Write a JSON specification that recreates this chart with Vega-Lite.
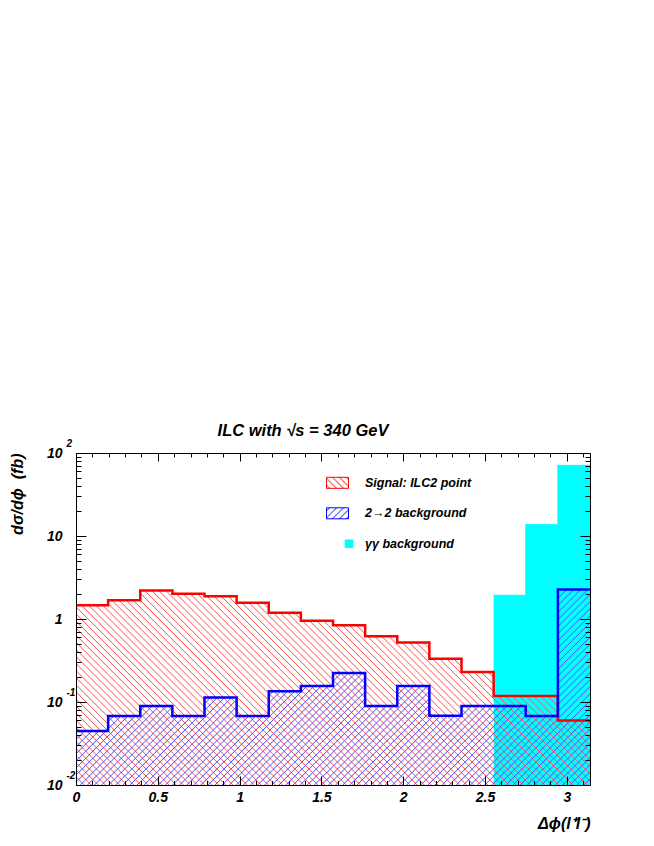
{
"$schema":"https://vega.github.io/schema/vega-lite/v6.json",
"width":514,"height":332,
"autosize":{"type":"none"},
"padding":{"left":76,"top":453,"right":64,"bottom":61},
"background":"white",
"title":{"text":"ILC with √s = 340 GeV","anchor":"middle","frame":"group","dx":-30,"offset":-14,"baseline":"alphabetic","font":"Liberation Sans","fontSize":16.5,"fontStyle":"italic","fontWeight":"bold","color":"black"},
"datasets":{"hist":[
{"series":"Signal: ILC2 point","phi":0,"dsdphi":1.46},
{"series":"Signal: ILC2 point","phi":0.19635,"dsdphi":1.68},
{"series":"Signal: ILC2 point","phi":0.3927,"dsdphi":2.2},
{"series":"Signal: ILC2 point","phi":0.58905,"dsdphi":2.02},
{"series":"Signal: ILC2 point","phi":0.7854,"dsdphi":1.88},
{"series":"Signal: ILC2 point","phi":0.98175,"dsdphi":1.57},
{"series":"Signal: ILC2 point","phi":1.1781,"dsdphi":1.19},
{"series":"Signal: ILC2 point","phi":1.37445,"dsdphi":0.95},
{"series":"Signal: ILC2 point","phi":1.5708,"dsdphi":0.84},
{"series":"Signal: ILC2 point","phi":1.76715,"dsdphi":0.62},
{"series":"Signal: ILC2 point","phi":1.9635,"dsdphi":0.52},
{"series":"Signal: ILC2 point","phi":2.15984,"dsdphi":0.333},
{"series":"Signal: ILC2 point","phi":2.35619,"dsdphi":0.23},
{"series":"Signal: ILC2 point","phi":2.55254,"dsdphi":0.118},
{"series":"Signal: ILC2 point","phi":2.74889,"dsdphi":0.118},
{"series":"Signal: ILC2 point","phi":2.94524,"dsdphi":0.06},
{"series":"Signal: ILC2 point","phi":3.14159,"dsdphi":0.06},
{"series":"2→2 background","phi":0,"dsdphi":0.0447},
{"series":"2→2 background","phi":0.19635,"dsdphi":0.0678},
{"series":"2→2 background","phi":0.3927,"dsdphi":0.0895},
{"series":"2→2 background","phi":0.58905,"dsdphi":0.0678},
{"series":"2→2 background","phi":0.7854,"dsdphi":0.113},
{"series":"2→2 background","phi":0.98175,"dsdphi":0.0678},
{"series":"2→2 background","phi":1.1781,"dsdphi":0.135},
{"series":"2→2 background","phi":1.37445,"dsdphi":0.156},
{"series":"2→2 background","phi":1.5708,"dsdphi":0.223},
{"series":"2→2 background","phi":1.76715,"dsdphi":0.0895},
{"series":"2→2 background","phi":1.9635,"dsdphi":0.156},
{"series":"2→2 background","phi":2.15984,"dsdphi":0.0685},
{"series":"2→2 background","phi":2.35619,"dsdphi":0.0895},
{"series":"2→2 background","phi":2.55254,"dsdphi":0.0895},
{"series":"2→2 background","phi":2.74889,"dsdphi":0.0678},
{"series":"2→2 background","phi":2.94524,"dsdphi":2.26},
{"series":"2→2 background","phi":3.14159,"dsdphi":2.26},
{"series":"γγ background","phi":0,"dsdphi":0},
{"series":"γγ background","phi":0.19635,"dsdphi":0},
{"series":"γγ background","phi":0.3927,"dsdphi":0},
{"series":"γγ background","phi":0.58905,"dsdphi":0},
{"series":"γγ background","phi":0.7854,"dsdphi":0},
{"series":"γγ background","phi":0.98175,"dsdphi":0},
{"series":"γγ background","phi":1.1781,"dsdphi":0},
{"series":"γγ background","phi":1.37445,"dsdphi":0},
{"series":"γγ background","phi":1.5708,"dsdphi":0},
{"series":"γγ background","phi":1.76715,"dsdphi":0},
{"series":"γγ background","phi":1.9635,"dsdphi":0},
{"series":"γγ background","phi":2.15984,"dsdphi":0},
{"series":"γγ background","phi":2.35619,"dsdphi":0},
{"series":"γγ background","phi":2.55254,"dsdphi":1.93},
{"series":"γγ background","phi":2.74889,"dsdphi":13.7},
{"series":"γγ background","phi":2.94524,"dsdphi":71},
{"series":"γγ background","phi":3.14159,"dsdphi":71}
]},
"data":{"name":"hist"},
"resolve":{"axis":{"x":"independent","y":"independent"}},
"layer":[
{"transform":[{"filter":"datum.series === 'γγ background' && datum.dsdphi > 0"}],
 "mark":{"type":"area","interpolate":"step-after","fill":"#00ffff"},
 "encoding":{
  "x":{"field":"phi","type":"quantitative","scale":{"domain":[0,3.14159],"nice":false,"zero":false},
   "axis":{"orient":"bottom","values":[0,0.5,1,1.5,2,2.5,3],"format":"~g","ticks":false,"domain":false,"labelPadding":12,"labelBaseline":"middle","zindex":1,
    "title":"Δϕ(l⁺l⁻)","titleX":514,"titleY":38,"titleAlign":"right","titleBaseline":"middle","titleAngle":0}},
  "y":{"field":"dsdphi","type":"quantitative","scale":{"type":"log","domain":[0.01,100],"nice":false},
   "axis":{"orient":"left","values":[0.01,0.1,1,10,100],"ticks":false,"domain":false,"labelExpr":"datum.value == 1 ? '1' : '10'","labelPadding":14,"labelAlign":"right","labelBaseline":"middle","zindex":1,
    "title":"dσ/dϕ\u00a0\u00a0(fb)","titleX":-59,"titleY":0,"titleAngle":-90,"titleAlign":"right","titleBaseline":"middle"}},
  "y2":{"datum":0.01}}},
{"transform":[{"filter":"datum.series === 'Signal: ILC2 point'"}],
 "mark":{"type":"area","interpolate":"step-after","fill":{"gradient":"linear","x1":0,"y1":1,"x2":1.2057,"y2":0.5439,"stops":[
{"offset":0,"color":"#f550"},{"offset":0.0015,"color":"#f55"},{"offset":0.003,"color":"#f550"},
{"offset":0.01,"color":"#f550"},{"offset":0.0115,"color":"#f55"},{"offset":0.013,"color":"#f550"},
{"offset":0.02,"color":"#f550"},{"offset":0.0215,"color":"#f55"},{"offset":0.023,"color":"#f550"},
{"offset":0.03,"color":"#f550"},{"offset":0.0315,"color":"#f55"},{"offset":0.033,"color":"#f550"},
{"offset":0.04,"color":"#f550"},{"offset":0.0415,"color":"#f55"},{"offset":0.043,"color":"#f550"},
{"offset":0.05,"color":"#f550"},{"offset":0.0515,"color":"#f55"},{"offset":0.053,"color":"#f550"},
{"offset":0.06,"color":"#f550"},{"offset":0.0615,"color":"#f55"},{"offset":0.063,"color":"#f550"},
{"offset":0.07,"color":"#f550"},{"offset":0.0715,"color":"#f55"},{"offset":0.073,"color":"#f550"},
{"offset":0.08,"color":"#f550"},{"offset":0.0815,"color":"#f55"},{"offset":0.083,"color":"#f550"},
{"offset":0.09,"color":"#f550"},{"offset":0.0915,"color":"#f55"},{"offset":0.093,"color":"#f550"},
{"offset":0.1,"color":"#f550"},{"offset":0.1015,"color":"#f55"},{"offset":0.103,"color":"#f550"},
{"offset":0.11,"color":"#f550"},{"offset":0.1115,"color":"#f55"},{"offset":0.113,"color":"#f550"},
{"offset":0.12,"color":"#f550"},{"offset":0.1215,"color":"#f55"},{"offset":0.123,"color":"#f550"},
{"offset":0.13,"color":"#f550"},{"offset":0.1315,"color":"#f55"},{"offset":0.133,"color":"#f550"},
{"offset":0.14,"color":"#f550"},{"offset":0.1415,"color":"#f55"},{"offset":0.143,"color":"#f550"},
{"offset":0.15,"color":"#f550"},{"offset":0.1515,"color":"#f55"},{"offset":0.153,"color":"#f550"},
{"offset":0.16,"color":"#f550"},{"offset":0.1615,"color":"#f55"},{"offset":0.163,"color":"#f550"},
{"offset":0.17,"color":"#f550"},{"offset":0.1715,"color":"#f55"},{"offset":0.173,"color":"#f550"},
{"offset":0.18,"color":"#f550"},{"offset":0.1815,"color":"#f55"},{"offset":0.183,"color":"#f550"},
{"offset":0.19,"color":"#f550"},{"offset":0.1915,"color":"#f55"},{"offset":0.193,"color":"#f550"},
{"offset":0.2,"color":"#f550"},{"offset":0.2015,"color":"#f55"},{"offset":0.203,"color":"#f550"},
{"offset":0.21,"color":"#f550"},{"offset":0.2115,"color":"#f55"},{"offset":0.213,"color":"#f550"},
{"offset":0.22,"color":"#f550"},{"offset":0.2215,"color":"#f55"},{"offset":0.223,"color":"#f550"},
{"offset":0.23,"color":"#f550"},{"offset":0.2315,"color":"#f55"},{"offset":0.233,"color":"#f550"},
{"offset":0.24,"color":"#f550"},{"offset":0.2415,"color":"#f55"},{"offset":0.243,"color":"#f550"},
{"offset":0.25,"color":"#f550"},{"offset":0.2515,"color":"#f55"},{"offset":0.253,"color":"#f550"},
{"offset":0.26,"color":"#f550"},{"offset":0.2615,"color":"#f55"},{"offset":0.263,"color":"#f550"},
{"offset":0.27,"color":"#f550"},{"offset":0.2715,"color":"#f55"},{"offset":0.273,"color":"#f550"},
{"offset":0.28,"color":"#f550"},{"offset":0.2815,"color":"#f55"},{"offset":0.283,"color":"#f550"},
{"offset":0.29,"color":"#f550"},{"offset":0.2915,"color":"#f55"},{"offset":0.293,"color":"#f550"},
{"offset":0.3,"color":"#f550"},{"offset":0.3015,"color":"#f55"},{"offset":0.303,"color":"#f550"},
{"offset":0.31,"color":"#f550"},{"offset":0.3115,"color":"#f55"},{"offset":0.313,"color":"#f550"},
{"offset":0.32,"color":"#f550"},{"offset":0.3215,"color":"#f55"},{"offset":0.323,"color":"#f550"},
{"offset":0.33,"color":"#f550"},{"offset":0.3315,"color":"#f55"},{"offset":0.333,"color":"#f550"},
{"offset":0.34,"color":"#f550"},{"offset":0.3415,"color":"#f55"},{"offset":0.343,"color":"#f550"},
{"offset":0.35,"color":"#f550"},{"offset":0.3515,"color":"#f55"},{"offset":0.353,"color":"#f550"},
{"offset":0.36,"color":"#f550"},{"offset":0.3615,"color":"#f55"},{"offset":0.363,"color":"#f550"},
{"offset":0.37,"color":"#f550"},{"offset":0.3715,"color":"#f55"},{"offset":0.373,"color":"#f550"},
{"offset":0.38,"color":"#f550"},{"offset":0.3815,"color":"#f55"},{"offset":0.383,"color":"#f550"},
{"offset":0.39,"color":"#f550"},{"offset":0.3915,"color":"#f55"},{"offset":0.393,"color":"#f550"},
{"offset":0.4,"color":"#f550"},{"offset":0.4015,"color":"#f55"},{"offset":0.403,"color":"#f550"},
{"offset":0.41,"color":"#f550"},{"offset":0.4115,"color":"#f55"},{"offset":0.413,"color":"#f550"},
{"offset":0.42,"color":"#f550"},{"offset":0.4215,"color":"#f55"},{"offset":0.423,"color":"#f550"},
{"offset":0.43,"color":"#f550"},{"offset":0.4315,"color":"#f55"},{"offset":0.433,"color":"#f550"},
{"offset":0.44,"color":"#f550"},{"offset":0.4415,"color":"#f55"},{"offset":0.443,"color":"#f550"},
{"offset":0.45,"color":"#f550"},{"offset":0.4515,"color":"#f55"},{"offset":0.453,"color":"#f550"},
{"offset":0.46,"color":"#f550"},{"offset":0.4615,"color":"#f55"},{"offset":0.463,"color":"#f550"},
{"offset":0.47,"color":"#f550"},{"offset":0.4715,"color":"#f55"},{"offset":0.473,"color":"#f550"},
{"offset":0.48,"color":"#f550"},{"offset":0.4815,"color":"#f55"},{"offset":0.483,"color":"#f550"},
{"offset":0.49,"color":"#f550"},{"offset":0.4915,"color":"#f55"},{"offset":0.493,"color":"#f550"},
{"offset":0.5,"color":"#f550"},{"offset":0.5015,"color":"#f55"},{"offset":0.503,"color":"#f550"},
{"offset":0.51,"color":"#f550"},{"offset":0.5115,"color":"#f55"},{"offset":0.513,"color":"#f550"},
{"offset":0.52,"color":"#f550"},{"offset":0.5215,"color":"#f55"},{"offset":0.523,"color":"#f550"},
{"offset":0.53,"color":"#f550"},{"offset":0.5315,"color":"#f55"},{"offset":0.533,"color":"#f550"},
{"offset":0.54,"color":"#f550"},{"offset":0.5415,"color":"#f55"},{"offset":0.543,"color":"#f550"},
{"offset":0.55,"color":"#f550"},{"offset":0.5515,"color":"#f55"},{"offset":0.553,"color":"#f550"},
{"offset":0.56,"color":"#f550"},{"offset":0.5615,"color":"#f55"},{"offset":0.563,"color":"#f550"},
{"offset":0.57,"color":"#f550"},{"offset":0.5715,"color":"#f55"},{"offset":0.573,"color":"#f550"},
{"offset":0.58,"color":"#f550"},{"offset":0.5815,"color":"#f55"},{"offset":0.583,"color":"#f550"},
{"offset":0.59,"color":"#f550"},{"offset":0.5915,"color":"#f55"},{"offset":0.593,"color":"#f550"},
{"offset":0.6,"color":"#f550"},{"offset":0.6015,"color":"#f55"},{"offset":0.603,"color":"#f550"},
{"offset":0.61,"color":"#f550"},{"offset":0.6115,"color":"#f55"},{"offset":0.613,"color":"#f550"},
{"offset":0.62,"color":"#f550"},{"offset":0.6215,"color":"#f55"},{"offset":0.623,"color":"#f550"},
{"offset":0.63,"color":"#f550"},{"offset":0.6315,"color":"#f55"},{"offset":0.633,"color":"#f550"},
{"offset":0.64,"color":"#f550"},{"offset":0.6415,"color":"#f55"},{"offset":0.643,"color":"#f550"},
{"offset":0.65,"color":"#f550"},{"offset":0.6515,"color":"#f55"},{"offset":0.653,"color":"#f550"},
{"offset":0.66,"color":"#f550"},{"offset":0.6615,"color":"#f55"},{"offset":0.663,"color":"#f550"},
{"offset":0.67,"color":"#f550"},{"offset":0.6715,"color":"#f55"},{"offset":0.673,"color":"#f550"},
{"offset":0.68,"color":"#f550"},{"offset":0.6815,"color":"#f55"},{"offset":0.683,"color":"#f550"},
{"offset":0.69,"color":"#f550"},{"offset":0.6915,"color":"#f55"},{"offset":0.693,"color":"#f550"},
{"offset":0.7,"color":"#f550"},{"offset":0.7015,"color":"#f55"},{"offset":0.703,"color":"#f550"},
{"offset":0.71,"color":"#f550"},{"offset":0.7115,"color":"#f55"},{"offset":0.713,"color":"#f550"},
{"offset":0.72,"color":"#f550"},{"offset":0.7215,"color":"#f55"},{"offset":0.723,"color":"#f550"},
{"offset":0.73,"color":"#f550"},{"offset":0.7315,"color":"#f55"},{"offset":0.733,"color":"#f550"},
{"offset":0.74,"color":"#f550"},{"offset":0.7415,"color":"#f55"},{"offset":0.743,"color":"#f550"},
{"offset":0.75,"color":"#f550"},{"offset":0.7515,"color":"#f55"},{"offset":0.753,"color":"#f550"},
{"offset":0.76,"color":"#f550"},{"offset":0.7615,"color":"#f55"},{"offset":0.763,"color":"#f550"},
{"offset":0.77,"color":"#f550"},{"offset":0.7715,"color":"#f55"},{"offset":0.773,"color":"#f550"},
{"offset":0.78,"color":"#f550"},{"offset":0.7815,"color":"#f55"},{"offset":0.783,"color":"#f550"},
{"offset":0.79,"color":"#f550"},{"offset":0.7915,"color":"#f55"},{"offset":0.793,"color":"#f550"},
{"offset":0.8,"color":"#f550"},{"offset":0.8015,"color":"#f55"},{"offset":0.803,"color":"#f550"},
{"offset":0.81,"color":"#f550"},{"offset":0.8115,"color":"#f55"},{"offset":0.813,"color":"#f550"},
{"offset":0.82,"color":"#f550"},{"offset":0.8215,"color":"#f55"},{"offset":0.823,"color":"#f550"},
{"offset":0.83,"color":"#f550"},{"offset":0.8315,"color":"#f55"},{"offset":0.833,"color":"#f550"},
{"offset":0.84,"color":"#f550"},{"offset":0.8415,"color":"#f55"},{"offset":0.843,"color":"#f550"},
{"offset":0.85,"color":"#f550"},{"offset":0.8515,"color":"#f55"},{"offset":0.853,"color":"#f550"},
{"offset":0.86,"color":"#f550"},{"offset":0.8615,"color":"#f55"},{"offset":0.863,"color":"#f550"},
{"offset":0.87,"color":"#f550"},{"offset":0.8715,"color":"#f55"},{"offset":0.873,"color":"#f550"},
{"offset":0.88,"color":"#f550"},{"offset":0.8815,"color":"#f55"},{"offset":0.883,"color":"#f550"},
{"offset":0.89,"color":"#f550"},{"offset":0.8915,"color":"#f55"},{"offset":0.893,"color":"#f550"},
{"offset":0.9,"color":"#f550"},{"offset":0.9015,"color":"#f55"},{"offset":0.903,"color":"#f550"},
{"offset":0.91,"color":"#f550"},{"offset":0.9115,"color":"#f55"},{"offset":0.913,"color":"#f550"},
{"offset":0.92,"color":"#f550"},{"offset":0.9215,"color":"#f55"},{"offset":0.923,"color":"#f550"},
{"offset":0.93,"color":"#f550"},{"offset":0.9315,"color":"#f55"},{"offset":0.933,"color":"#f550"},
{"offset":0.94,"color":"#f550"},{"offset":0.9415,"color":"#f55"},{"offset":0.943,"color":"#f550"},
{"offset":0.95,"color":"#f550"},{"offset":0.9515,"color":"#f55"},{"offset":0.953,"color":"#f550"},
{"offset":0.96,"color":"#f550"},{"offset":0.9615,"color":"#f55"},{"offset":0.963,"color":"#f550"},
{"offset":0.97,"color":"#f550"},{"offset":0.9715,"color":"#f55"},{"offset":0.973,"color":"#f550"},
{"offset":0.98,"color":"#f550"},{"offset":0.9815,"color":"#f55"},{"offset":0.983,"color":"#f550"},
{"offset":0.99,"color":"#f550"},{"offset":0.9915,"color":"#f55"},{"offset":0.993,"color":"#f550"}
]}},
 "encoding":{
  "x":{"field":"phi","type":"quantitative","scale":{"domain":[0,3.14159],"nice":false,"zero":false},
   "axis":{"orient":"bottom","values":[0,0.5,1,1.5,2,2.5,3],"labels":false,"domain":true,"tickSize":-9,"title":null,"zindex":1}},
  "y":{"field":"dsdphi","type":"quantitative","scale":{"type":"log","domain":[0.01,100],"nice":false},
   "axis":{"orient":"left","values":[0.01,0.1,100],"ticks":false,"domain":false,"labelExpr":"datum.value < 0.05 ? '-2' : datum.value < 0.5 ? '-1' : '2'","labelAlign":"left","labelPadding":10,"labelOffset":-10,"labelBaseline":"middle","labelFontSize":10,"title":null,"zindex":1}},
  "y2":{"datum":0.01}}},
{"transform":[{"filter":"datum.series === '2→2 background'"}],
 "mark":{"type":"area","interpolate":"step-after","fill":{"gradient":"linear","x1":0,"y1":0,"x2":1.2059,"y2":0.4584,"stops":[
{"offset":0,"color":"#55f0"},{"offset":0.0015,"color":"#55f"},{"offset":0.003,"color":"#55f0"},
{"offset":0.01,"color":"#55f0"},{"offset":0.0115,"color":"#55f"},{"offset":0.013,"color":"#55f0"},
{"offset":0.02,"color":"#55f0"},{"offset":0.0215,"color":"#55f"},{"offset":0.023,"color":"#55f0"},
{"offset":0.03,"color":"#55f0"},{"offset":0.0315,"color":"#55f"},{"offset":0.033,"color":"#55f0"},
{"offset":0.04,"color":"#55f0"},{"offset":0.0415,"color":"#55f"},{"offset":0.043,"color":"#55f0"},
{"offset":0.05,"color":"#55f0"},{"offset":0.0515,"color":"#55f"},{"offset":0.053,"color":"#55f0"},
{"offset":0.06,"color":"#55f0"},{"offset":0.0615,"color":"#55f"},{"offset":0.063,"color":"#55f0"},
{"offset":0.07,"color":"#55f0"},{"offset":0.0715,"color":"#55f"},{"offset":0.073,"color":"#55f0"},
{"offset":0.08,"color":"#55f0"},{"offset":0.0815,"color":"#55f"},{"offset":0.083,"color":"#55f0"},
{"offset":0.09,"color":"#55f0"},{"offset":0.0915,"color":"#55f"},{"offset":0.093,"color":"#55f0"},
{"offset":0.1,"color":"#55f0"},{"offset":0.1015,"color":"#55f"},{"offset":0.103,"color":"#55f0"},
{"offset":0.11,"color":"#55f0"},{"offset":0.1115,"color":"#55f"},{"offset":0.113,"color":"#55f0"},
{"offset":0.12,"color":"#55f0"},{"offset":0.1215,"color":"#55f"},{"offset":0.123,"color":"#55f0"},
{"offset":0.13,"color":"#55f0"},{"offset":0.1315,"color":"#55f"},{"offset":0.133,"color":"#55f0"},
{"offset":0.14,"color":"#55f0"},{"offset":0.1415,"color":"#55f"},{"offset":0.143,"color":"#55f0"},
{"offset":0.15,"color":"#55f0"},{"offset":0.1515,"color":"#55f"},{"offset":0.153,"color":"#55f0"},
{"offset":0.16,"color":"#55f0"},{"offset":0.1615,"color":"#55f"},{"offset":0.163,"color":"#55f0"},
{"offset":0.17,"color":"#55f0"},{"offset":0.1715,"color":"#55f"},{"offset":0.173,"color":"#55f0"},
{"offset":0.18,"color":"#55f0"},{"offset":0.1815,"color":"#55f"},{"offset":0.183,"color":"#55f0"},
{"offset":0.19,"color":"#55f0"},{"offset":0.1915,"color":"#55f"},{"offset":0.193,"color":"#55f0"},
{"offset":0.2,"color":"#55f0"},{"offset":0.2015,"color":"#55f"},{"offset":0.203,"color":"#55f0"},
{"offset":0.21,"color":"#55f0"},{"offset":0.2115,"color":"#55f"},{"offset":0.213,"color":"#55f0"},
{"offset":0.22,"color":"#55f0"},{"offset":0.2215,"color":"#55f"},{"offset":0.223,"color":"#55f0"},
{"offset":0.23,"color":"#55f0"},{"offset":0.2315,"color":"#55f"},{"offset":0.233,"color":"#55f0"},
{"offset":0.24,"color":"#55f0"},{"offset":0.2415,"color":"#55f"},{"offset":0.243,"color":"#55f0"},
{"offset":0.25,"color":"#55f0"},{"offset":0.2515,"color":"#55f"},{"offset":0.253,"color":"#55f0"},
{"offset":0.26,"color":"#55f0"},{"offset":0.2615,"color":"#55f"},{"offset":0.263,"color":"#55f0"},
{"offset":0.27,"color":"#55f0"},{"offset":0.2715,"color":"#55f"},{"offset":0.273,"color":"#55f0"},
{"offset":0.28,"color":"#55f0"},{"offset":0.2815,"color":"#55f"},{"offset":0.283,"color":"#55f0"},
{"offset":0.29,"color":"#55f0"},{"offset":0.2915,"color":"#55f"},{"offset":0.293,"color":"#55f0"},
{"offset":0.3,"color":"#55f0"},{"offset":0.3015,"color":"#55f"},{"offset":0.303,"color":"#55f0"},
{"offset":0.31,"color":"#55f0"},{"offset":0.3115,"color":"#55f"},{"offset":0.313,"color":"#55f0"},
{"offset":0.32,"color":"#55f0"},{"offset":0.3215,"color":"#55f"},{"offset":0.323,"color":"#55f0"},
{"offset":0.33,"color":"#55f0"},{"offset":0.3315,"color":"#55f"},{"offset":0.333,"color":"#55f0"},
{"offset":0.34,"color":"#55f0"},{"offset":0.3415,"color":"#55f"},{"offset":0.343,"color":"#55f0"},
{"offset":0.35,"color":"#55f0"},{"offset":0.3515,"color":"#55f"},{"offset":0.353,"color":"#55f0"},
{"offset":0.36,"color":"#55f0"},{"offset":0.3615,"color":"#55f"},{"offset":0.363,"color":"#55f0"},
{"offset":0.37,"color":"#55f0"},{"offset":0.3715,"color":"#55f"},{"offset":0.373,"color":"#55f0"},
{"offset":0.38,"color":"#55f0"},{"offset":0.3815,"color":"#55f"},{"offset":0.383,"color":"#55f0"},
{"offset":0.39,"color":"#55f0"},{"offset":0.3915,"color":"#55f"},{"offset":0.393,"color":"#55f0"},
{"offset":0.4,"color":"#55f0"},{"offset":0.4015,"color":"#55f"},{"offset":0.403,"color":"#55f0"},
{"offset":0.41,"color":"#55f0"},{"offset":0.4115,"color":"#55f"},{"offset":0.413,"color":"#55f0"},
{"offset":0.42,"color":"#55f0"},{"offset":0.4215,"color":"#55f"},{"offset":0.423,"color":"#55f0"},
{"offset":0.43,"color":"#55f0"},{"offset":0.4315,"color":"#55f"},{"offset":0.433,"color":"#55f0"},
{"offset":0.44,"color":"#55f0"},{"offset":0.4415,"color":"#55f"},{"offset":0.443,"color":"#55f0"},
{"offset":0.45,"color":"#55f0"},{"offset":0.4515,"color":"#55f"},{"offset":0.453,"color":"#55f0"},
{"offset":0.46,"color":"#55f0"},{"offset":0.4615,"color":"#55f"},{"offset":0.463,"color":"#55f0"},
{"offset":0.47,"color":"#55f0"},{"offset":0.4715,"color":"#55f"},{"offset":0.473,"color":"#55f0"},
{"offset":0.48,"color":"#55f0"},{"offset":0.4815,"color":"#55f"},{"offset":0.483,"color":"#55f0"},
{"offset":0.49,"color":"#55f0"},{"offset":0.4915,"color":"#55f"},{"offset":0.493,"color":"#55f0"},
{"offset":0.5,"color":"#55f0"},{"offset":0.5015,"color":"#55f"},{"offset":0.503,"color":"#55f0"},
{"offset":0.51,"color":"#55f0"},{"offset":0.5115,"color":"#55f"},{"offset":0.513,"color":"#55f0"},
{"offset":0.52,"color":"#55f0"},{"offset":0.5215,"color":"#55f"},{"offset":0.523,"color":"#55f0"},
{"offset":0.53,"color":"#55f0"},{"offset":0.5315,"color":"#55f"},{"offset":0.533,"color":"#55f0"},
{"offset":0.54,"color":"#55f0"},{"offset":0.5415,"color":"#55f"},{"offset":0.543,"color":"#55f0"},
{"offset":0.55,"color":"#55f0"},{"offset":0.5515,"color":"#55f"},{"offset":0.553,"color":"#55f0"},
{"offset":0.56,"color":"#55f0"},{"offset":0.5615,"color":"#55f"},{"offset":0.563,"color":"#55f0"},
{"offset":0.57,"color":"#55f0"},{"offset":0.5715,"color":"#55f"},{"offset":0.573,"color":"#55f0"},
{"offset":0.58,"color":"#55f0"},{"offset":0.5815,"color":"#55f"},{"offset":0.583,"color":"#55f0"},
{"offset":0.59,"color":"#55f0"},{"offset":0.5915,"color":"#55f"},{"offset":0.593,"color":"#55f0"},
{"offset":0.6,"color":"#55f0"},{"offset":0.6015,"color":"#55f"},{"offset":0.603,"color":"#55f0"},
{"offset":0.61,"color":"#55f0"},{"offset":0.6115,"color":"#55f"},{"offset":0.613,"color":"#55f0"},
{"offset":0.62,"color":"#55f0"},{"offset":0.6215,"color":"#55f"},{"offset":0.623,"color":"#55f0"},
{"offset":0.63,"color":"#55f0"},{"offset":0.6315,"color":"#55f"},{"offset":0.633,"color":"#55f0"},
{"offset":0.64,"color":"#55f0"},{"offset":0.6415,"color":"#55f"},{"offset":0.643,"color":"#55f0"},
{"offset":0.65,"color":"#55f0"},{"offset":0.6515,"color":"#55f"},{"offset":0.653,"color":"#55f0"},
{"offset":0.66,"color":"#55f0"},{"offset":0.6615,"color":"#55f"},{"offset":0.663,"color":"#55f0"},
{"offset":0.67,"color":"#55f0"},{"offset":0.6715,"color":"#55f"},{"offset":0.673,"color":"#55f0"},
{"offset":0.68,"color":"#55f0"},{"offset":0.6815,"color":"#55f"},{"offset":0.683,"color":"#55f0"},
{"offset":0.69,"color":"#55f0"},{"offset":0.6915,"color":"#55f"},{"offset":0.693,"color":"#55f0"},
{"offset":0.7,"color":"#55f0"},{"offset":0.7015,"color":"#55f"},{"offset":0.703,"color":"#55f0"},
{"offset":0.71,"color":"#55f0"},{"offset":0.7115,"color":"#55f"},{"offset":0.713,"color":"#55f0"},
{"offset":0.72,"color":"#55f0"},{"offset":0.7215,"color":"#55f"},{"offset":0.723,"color":"#55f0"},
{"offset":0.73,"color":"#55f0"},{"offset":0.7315,"color":"#55f"},{"offset":0.733,"color":"#55f0"},
{"offset":0.74,"color":"#55f0"},{"offset":0.7415,"color":"#55f"},{"offset":0.743,"color":"#55f0"},
{"offset":0.75,"color":"#55f0"},{"offset":0.7515,"color":"#55f"},{"offset":0.753,"color":"#55f0"},
{"offset":0.76,"color":"#55f0"},{"offset":0.7615,"color":"#55f"},{"offset":0.763,"color":"#55f0"},
{"offset":0.77,"color":"#55f0"},{"offset":0.7715,"color":"#55f"},{"offset":0.773,"color":"#55f0"},
{"offset":0.78,"color":"#55f0"},{"offset":0.7815,"color":"#55f"},{"offset":0.783,"color":"#55f0"},
{"offset":0.79,"color":"#55f0"},{"offset":0.7915,"color":"#55f"},{"offset":0.793,"color":"#55f0"},
{"offset":0.8,"color":"#55f0"},{"offset":0.8015,"color":"#55f"},{"offset":0.803,"color":"#55f0"},
{"offset":0.81,"color":"#55f0"},{"offset":0.8115,"color":"#55f"},{"offset":0.813,"color":"#55f0"},
{"offset":0.82,"color":"#55f0"},{"offset":0.8215,"color":"#55f"},{"offset":0.823,"color":"#55f0"},
{"offset":0.83,"color":"#55f0"},{"offset":0.8315,"color":"#55f"},{"offset":0.833,"color":"#55f0"},
{"offset":0.84,"color":"#55f0"},{"offset":0.8415,"color":"#55f"},{"offset":0.843,"color":"#55f0"},
{"offset":0.85,"color":"#55f0"},{"offset":0.8515,"color":"#55f"},{"offset":0.853,"color":"#55f0"},
{"offset":0.86,"color":"#55f0"},{"offset":0.8615,"color":"#55f"},{"offset":0.863,"color":"#55f0"},
{"offset":0.87,"color":"#55f0"},{"offset":0.8715,"color":"#55f"},{"offset":0.873,"color":"#55f0"},
{"offset":0.88,"color":"#55f0"},{"offset":0.8815,"color":"#55f"},{"offset":0.883,"color":"#55f0"},
{"offset":0.89,"color":"#55f0"},{"offset":0.8915,"color":"#55f"},{"offset":0.893,"color":"#55f0"},
{"offset":0.9,"color":"#55f0"},{"offset":0.9015,"color":"#55f"},{"offset":0.903,"color":"#55f0"},
{"offset":0.91,"color":"#55f0"},{"offset":0.9115,"color":"#55f"},{"offset":0.913,"color":"#55f0"},
{"offset":0.92,"color":"#55f0"},{"offset":0.9215,"color":"#55f"},{"offset":0.923,"color":"#55f0"},
{"offset":0.93,"color":"#55f0"},{"offset":0.9315,"color":"#55f"},{"offset":0.933,"color":"#55f0"},
{"offset":0.94,"color":"#55f0"},{"offset":0.9415,"color":"#55f"},{"offset":0.943,"color":"#55f0"},
{"offset":0.95,"color":"#55f0"},{"offset":0.9515,"color":"#55f"},{"offset":0.953,"color":"#55f0"},
{"offset":0.96,"color":"#55f0"},{"offset":0.9615,"color":"#55f"},{"offset":0.963,"color":"#55f0"},
{"offset":0.97,"color":"#55f0"},{"offset":0.9715,"color":"#55f"},{"offset":0.973,"color":"#55f0"},
{"offset":0.98,"color":"#55f0"},{"offset":0.9815,"color":"#55f"},{"offset":0.983,"color":"#55f0"},
{"offset":0.99,"color":"#55f0"},{"offset":0.9915,"color":"#55f"},{"offset":0.993,"color":"#55f0"}
]}},
 "encoding":{
  "x":{"field":"phi","type":"quantitative","scale":{"domain":[0,3.14159],"nice":false,"zero":false},
   "axis":{"orient":"bottom","values":[0.1,0.2,0.3,0.4,0.6,0.7,0.8,0.9,1.1,1.2,1.3,1.4,1.6,1.7,1.8,1.9,2.1,2.2,2.3,2.4,2.6,2.7,2.8,2.9,3.1],"labels":false,"domain":false,"tickSize":-4.5,"title":null,"zindex":1}},
  "y":{"field":"dsdphi","type":"quantitative","scale":{"type":"log","domain":[0.01,100],"nice":false},
   "axis":{"orient":"left","values":[0.01,0.1,1,10,100],"labels":false,"domain":true,"tickSize":-10,"title":null,"zindex":1}},
  "y2":{"datum":0.01}}},
{"transform":[{"filter":"datum.series === 'γγ background' && datum.dsdphi > 0"}],
 "mark":{"type":"line","interpolate":"step-after","strokeWidth":1,"strokeJoin":"miter"},
 "encoding":{
  "x":{"field":"phi","type":"quantitative","scale":{"domain":[0,3.14159],"nice":false,"zero":false},
   "axis":{"orient":"top","values":[0,0.5,1,1.5,2,2.5,3],"labels":false,"domain":true,"tickSize":-8,"title":null,"zindex":1}},
  "y":{"field":"dsdphi","type":"quantitative","scale":{"type":"log","domain":[0.01,100],"nice":false},
   "axis":{"orient":"left","values":[0.02,0.03,0.04,0.05,0.06,0.07,0.08,0.09,0.2,0.3,0.4,0.5,0.6,0.7,0.8,0.9,2,3,4,5,6,7,8,9,20,30,40,50,60,70,80,90],"labels":false,"domain":false,"tickSize":-5,"title":null,"zindex":1}},
  "color":{"field":"series","type":"nominal",
   "scale":{"domain":["Signal: ILC2 point","2→2 background","γγ background"],"range":["#ff0000","#0000ff","#00ffff"]},
   "legend":{"orient":"none","legendX":250,"legendY":18.3,"title":null,"padding":0,"symbolOffset":0,"labelOffset":16,"rowPadding":11.5,
    "labelFont":"Liberation Sans","labelFontSize":12.5,"labelFontStyle":"italic","labelFontWeight":"bold","labelColor":"black","labelLimit":0,
    "symbolSize":484,"symbolStrokeWidth":1,
    "encode":{"symbols":{"update":{
     "shape":[{"test":"datum.value === 'γγ background'","value":"M0.7,-0.35H1.4V0.35H0.7Z"},{"value":"M-1,-0.5H1V0.5H-1Z"}],
     "fill":[{"test":"datum.value === 'Signal: ILC2 point'","value":{"gradient":"linear","x1":0,"y1":1,"x2":1.2,"y2":0.4,"stops":[
       {"offset":0.05,"color":"#f550"},{"offset":0.095,"color":"#f55"},{"offset":0.14,"color":"#f550"},
       {"offset":0.26,"color":"#f550"},{"offset":0.305,"color":"#f55"},{"offset":0.35,"color":"#f550"},
       {"offset":0.47,"color":"#f550"},{"offset":0.515,"color":"#f55"},{"offset":0.56,"color":"#f550"},
       {"offset":0.68,"color":"#f550"},{"offset":0.725,"color":"#f55"},{"offset":0.77,"color":"#f550"},
       {"offset":0.89,"color":"#f550"},{"offset":0.935,"color":"#f55"},{"offset":0.98,"color":"#f550"}]}},
      {"test":"datum.value === '2→2 background'","value":{"gradient":"linear","x1":0,"y1":0,"x2":1.2,"y2":0.6,"stops":[
       {"offset":0.05,"color":"#55f0"},{"offset":0.095,"color":"#55f"},{"offset":0.14,"color":"#55f0"},
       {"offset":0.26,"color":"#55f0"},{"offset":0.305,"color":"#55f"},{"offset":0.35,"color":"#55f0"},
       {"offset":0.47,"color":"#55f0"},{"offset":0.515,"color":"#55f"},{"offset":0.56,"color":"#55f0"},
       {"offset":0.68,"color":"#55f0"},{"offset":0.725,"color":"#55f"},{"offset":0.77,"color":"#55f0"},
       {"offset":0.89,"color":"#55f0"},{"offset":0.935,"color":"#55f"},{"offset":0.98,"color":"#55f0"}]}},
      {"value":"#00ffff"}],
     "stroke":[{"test":"datum.value === 'γγ background'","value":"transparent"},{"value":"#888888"}],
     "strokeWidth":{"value":1},
     "size":{"value":484},
     "opacity":{"value":1}}}}}}}},
{"transform":[{"filter":"datum.series === 'Signal: ILC2 point'"}],
 "mark":{"type":"line","interpolate":"step-after","strokeWidth":2.5,"strokeJoin":"miter"},
 "encoding":{
  "x":{"field":"phi","type":"quantitative","scale":{"domain":[0,3.14159],"nice":false,"zero":false},
   "axis":{"orient":"top","values":[0.1,0.2,0.3,0.4,0.6,0.7,0.8,0.9,1.1,1.2,1.3,1.4,1.6,1.7,1.8,1.9,2.1,2.2,2.3,2.4,2.6,2.7,2.8,2.9,3.1],"labels":false,"domain":false,"tickSize":-4,"title":null,"zindex":1}},
  "y":{"field":"dsdphi","type":"quantitative","scale":{"type":"log","domain":[0.01,100],"nice":false},
   "axis":{"orient":"right","values":[0.01,0.1,1,10,100],"labels":false,"domain":true,"tickSize":-10,"title":null,"zindex":1}},
  "color":{"field":"series","type":"nominal"}}},
{"transform":[{"filter":"datum.series === '2→2 background'"}],
 "mark":{"type":"line","interpolate":"step-after","strokeWidth":2.5,"strokeJoin":"miter"},
 "encoding":{
  "x":{"field":"phi","type":"quantitative","scale":{"domain":[0,3.14159],"nice":false,"zero":false},"axis":null},
  "y":{"field":"dsdphi","type":"quantitative","scale":{"type":"log","domain":[0.01,100],"nice":false},
   "axis":{"orient":"right","values":[0.02,0.03,0.04,0.05,0.06,0.07,0.08,0.09,0.2,0.3,0.4,0.5,0.6,0.7,0.8,0.9,2,3,4,5,6,7,8,9,20,30,40,50,60,70,80,90],"labels":false,"domain":false,"tickSize":-5,"title":null,"zindex":1}},
  "color":{"field":"series","type":"nominal"}}}
],
"config":{
 "view":{"stroke":null},
 "font":"Liberation Sans",
 "axis":{"grid":false,"labelFont":"Liberation Sans","labelColor":"black","labelFontWeight":"bold","labelFontStyle":"italic","labelFontSize":14,"tickColor":"black","tickWidth":1,"domainColor":"black","domainWidth":1,"titleFont":"Liberation Sans","titleFontSize":16,"titleFontWeight":"bold","titleFontStyle":"italic","titleColor":"black","labelFlush":false,"labelOverlap":false}
}
}
